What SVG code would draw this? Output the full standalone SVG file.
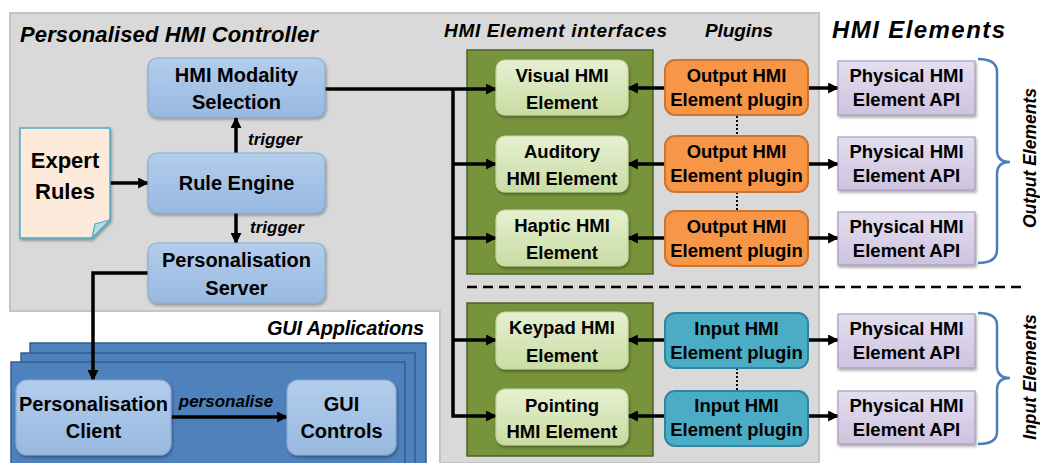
<svg xmlns="http://www.w3.org/2000/svg" width="1040" height="463" viewBox="0 0 1040 463">
<defs>
<style>
.t{font-family:"Liberation Sans",Arial,sans-serif;font-weight:bold;fill:#000;text-anchor:middle}
.l{font-size:20px}
.r{font-size:18.5px}
.h{font-family:"Liberation Sans",Arial,sans-serif;font-weight:bold;font-style:italic;fill:#000}
.c{fill:none;stroke:#000;stroke-width:3.5}
.blue{fill:url(#gBlue);stroke:#8aaad6;stroke-width:1.2}
.green{fill:url(#gGreen);stroke:#c3d69b;stroke-width:1.2}
.orange{fill:#f79646;stroke:#d0742c;stroke-width:2}
.teal{fill:#4bacc6;stroke:#31859c;stroke-width:2}
.phys{fill:url(#gPhys);stroke:#a89cbc;stroke-width:1.2}
.stack{fill:#4f81bd;stroke:#385d8a;stroke-width:1.5}
.dot{fill:none;stroke:#000;stroke-width:2;stroke-dasharray:2 2}
.br{fill:none;stroke:#4a7ebb;stroke-width:2.5}
</style>
<linearGradient id="gBlue" x1="0" y1="0" x2="0" y2="1"><stop offset="0" stop-color="#b3cdec"/><stop offset="1" stop-color="#98b9e0"/></linearGradient>
<linearGradient id="gGreen" x1="0" y1="0" x2="0" y2="1"><stop offset="0" stop-color="#e6f0d2"/><stop offset="1" stop-color="#c9dca3"/></linearGradient>
<linearGradient id="gPhys" x1="0" y1="0" x2="0" y2="1"><stop offset="0" stop-color="#e4def0"/><stop offset="1" stop-color="#cdc3de"/></linearGradient>
<filter id="sh" x="-10%" y="-10%" width="125%" height="135%"><feDropShadow dx="1" dy="2" stdDeviation="1.5" flood-color="#000" flood-opacity="0.35"/></filter>
<marker id="ah" viewBox="0 0 10 10" refX="9" refY="5" markerWidth="11" markerHeight="11" markerUnits="userSpaceOnUse" orient="auto"><path d="M0,0 L10,5 L0,10 Z" fill="#000"/></marker>
</defs>
<rect width="1040" height="463" fill="#fff"/>
<g id="panels">
<path d="M10,13 H819 V463 H440 V311 H10 Z" fill="#d9d9d9" stroke="#c4c4c4" stroke-width="2"/>
<rect x="467" y="50" width="186" height="224" fill="#77933c" stroke="#4f6228" stroke-width="1.5"/>
<rect x="467" y="303" width="186" height="153" fill="#77933c" stroke="#4f6228" stroke-width="1.5"/>
<rect class="stack" x="30" y="343" width="396" height="130"/>
<rect class="stack" x="21" y="353" width="394" height="130"/>
<rect class="stack" x="11" y="362" width="394" height="130"/>
</g>
<g id="titles">
<text class="h" x="20" y="42" font-size="22" textLength="298">Personalised HMI Controller</text>
<text class="h" x="444" y="37" font-size="19" textLength="223">HMI Element interfaces</text>
<text class="h" x="705" y="37" font-size="19" textLength="68">Plugins</text>
<text class="h" x="832" y="38" font-size="24" textLength="173">HMI Elements</text>
<text class="h" x="267" y="335" font-size="20" textLength="157">GUI Applications</text>
<text class="h" font-size="17.5" text-anchor="middle" transform="translate(1036,158) rotate(-90)">Output Elements</text>
<text class="h" font-size="17.5" text-anchor="middle" transform="translate(1036,377) rotate(-90)">Input Elements</text>
</g>
<g id="connectors">
<line class="c" x1="110" y1="183" x2="148" y2="183" marker-end="url(#ah)"/>
<line class="c" x1="236" y1="153" x2="236" y2="118" marker-end="url(#ah)"/>
<line class="c" x1="236" y1="213" x2="236" y2="243" marker-end="url(#ah)"/>
<polyline class="c" points="148,273 93,273 93,380" marker-end="url(#ah)"/>
<line class="c" x1="171" y1="417" x2="287" y2="417" marker-end="url(#ah)"/>
<line class="c" x1="325" y1="89" x2="496" y2="89" marker-end="url(#ah)"/>
<polyline class="c" points="453,89 453,416 496,416" marker-end="url(#ah)"/>
<line class="c" x1="453" y1="164" x2="496" y2="164" marker-end="url(#ah)"/>
<line class="c" x1="453" y1="238" x2="496" y2="238" marker-end="url(#ah)"/>
<line class="c" x1="453" y1="340" x2="496" y2="340" marker-end="url(#ah)"/>
<line class="c" x1="665" y1="88" x2="628" y2="88" marker-end="url(#ah)"/>
<line class="c" x1="665" y1="164" x2="628" y2="164" marker-end="url(#ah)"/>
<line class="c" x1="665" y1="238" x2="628" y2="238" marker-end="url(#ah)"/>
<line class="c" x1="665" y1="340" x2="628" y2="340" marker-end="url(#ah)"/>
<line class="c" x1="665" y1="416" x2="628" y2="416" marker-end="url(#ah)"/>
<line class="c" x1="808" y1="88" x2="838" y2="88" marker-end="url(#ah)"/>
<line class="c" x1="808" y1="164" x2="838" y2="164" marker-end="url(#ah)"/>
<line class="c" x1="808" y1="238" x2="838" y2="238" marker-end="url(#ah)"/>
<line class="c" x1="808" y1="340" x2="838" y2="340" marker-end="url(#ah)"/>
<line class="c" x1="808" y1="416" x2="838" y2="416" marker-end="url(#ah)"/>
<line class="dot" x1="737" y1="116" x2="737" y2="136"/>
<line class="dot" x1="737" y1="192" x2="737" y2="211"/>
<line class="dot" x1="737" y1="368" x2="737" y2="391"/>
<line x1="467" y1="287" x2="1023" y2="287" stroke="#000" stroke-width="2.5" stroke-dasharray="10 6"/>
<path class="br" d="M978,59 Q997,59 997,72 V150 Q997,162 1010,162 Q997,162 997,174 V250 Q997,263 978,263"/>
<path class="br" d="M978,313 Q997,313 997,325 V366 Q997,378 1010,378 Q997,378 997,390 V432 Q997,444 978,444"/>
<text class="h" x="248" y="145" font-size="17">trigger</text>
<text class="h" x="250" y="233" font-size="17">trigger</text>
<text class="h" x="226" y="407" font-size="17" text-anchor="middle">personalise</text>
</g>
<g id="expert-rules">
<path d="M20,128 H110 V220 L92,238 H20 Z" fill="#fdeada" stroke="#4bacc6" stroke-width="1.5" filter="url(#sh)"/>
<path d="M110,220 L95,224 L92,238 Z" fill="#b7dde8" stroke="#4bacc6" stroke-width="1.2"/>
<text class="t" x="65" y="168" font-size="22">Expert</text>
<text class="t" x="65" y="199" font-size="22">Rules</text>
</g>
<g id="hmi-modality-selection">
<rect class="blue" x="148" y="58" width="177" height="59" rx="9" filter="url(#sh)"/>
<text class="t l" x="236.5" y="82">HMI Modality</text>
<text class="t l" x="236.5" y="109">Selection</text>
</g>
<g id="rule-engine">
<rect class="blue" x="148" y="153" width="177" height="60" rx="9" filter="url(#sh)"/>
<text class="t l" x="236.5" y="190">Rule Engine</text>
</g>
<g id="personalisation-server">
<rect class="blue" x="148" y="243" width="177" height="60" rx="9" filter="url(#sh)"/>
<text class="t l" x="236.5" y="267">Personalisation</text>
<text class="t l" x="236.5" y="295">Server</text>
</g>
<g id="personalisation-client">
<rect class="blue" x="16" y="380" width="155" height="75" rx="11" filter="url(#sh)"/>
<text class="t l" x="93.5" y="411">Personalisation</text>
<text class="t l" x="93.5" y="438">Client</text>
</g>
<g id="gui-controls">
<rect class="blue" x="287" y="380" width="109" height="75" rx="11" filter="url(#sh)"/>
<text class="t l" x="341.5" y="411">GUI</text>
<text class="t l" x="341.5" y="438">Controls</text>
</g>
<g id="visual-hmi-element">
<rect class="green" x="496" y="60" width="132" height="55" rx="9" filter="url(#sh)"/>
<text class="t r" x="562" y="82">Visual HMI</text>
<text class="t r" x="562" y="109">Element</text>
</g>
<g id="auditory-hmi-element">
<rect class="green" x="496" y="136" width="132" height="56" rx="9" filter="url(#sh)"/>
<text class="t r" x="562" y="158">Auditory</text>
<text class="t r" x="562" y="185">HMI Element</text>
</g>
<g id="haptic-hmi-element">
<rect class="green" x="496" y="210" width="132" height="56" rx="9" filter="url(#sh)"/>
<text class="t r" x="562" y="232">Haptic HMI</text>
<text class="t r" x="562" y="259">Element</text>
</g>
<g id="keypad-hmi-element">
<rect class="green" x="496" y="312" width="132" height="57" rx="9" filter="url(#sh)"/>
<text class="t r" x="562" y="334">Keypad HMI</text>
<text class="t r" x="562" y="362">Element</text>
</g>
<g id="pointing-hmi-element">
<rect class="green" x="496" y="389" width="132" height="56" rx="9" filter="url(#sh)"/>
<text class="t r" x="562" y="412">Pointing</text>
<text class="t r" x="562" y="438">HMI Element</text>
</g>
<g id="output-plugin-1">
<rect class="orange" x="665" y="60" width="143" height="55" rx="10"/>
<text class="t r" x="736.5" y="82">Output HMI</text>
<text class="t r" x="736.5" y="106">Element plugin</text>
</g>
<g id="output-plugin-2">
<rect class="orange" x="665" y="136" width="143" height="56" rx="10"/>
<text class="t r" x="736.5" y="158">Output HMI</text>
<text class="t r" x="736.5" y="182">Element plugin</text>
</g>
<g id="output-plugin-3">
<rect class="orange" x="665" y="211" width="143" height="55" rx="10"/>
<text class="t r" x="736.5" y="233">Output HMI</text>
<text class="t r" x="736.5" y="257">Element plugin</text>
</g>
<g id="input-plugin-1">
<rect class="teal" x="665" y="313" width="143" height="55" rx="10"/>
<text class="t r" x="736.5" y="335">Input HMI</text>
<text class="t r" x="736.5" y="359">Element plugin</text>
</g>
<g id="input-plugin-2">
<rect class="teal" x="665" y="391" width="143" height="55" rx="10"/>
<text class="t r" x="736.5" y="412">Input HMI</text>
<text class="t r" x="736.5" y="436">Element plugin</text>
</g>
<g id="physical-api-1">
<rect class="phys" x="838" y="61" width="137" height="54" filter="url(#sh)"/>
<text class="t r" x="906.5" y="82">Physical HMI</text>
<text class="t r" x="906.5" y="106">Element API</text>
</g>
<g id="physical-api-2">
<rect class="phys" x="838" y="137" width="137" height="53" filter="url(#sh)"/>
<text class="t r" x="906.5" y="158">Physical HMI</text>
<text class="t r" x="906.5" y="182">Element API</text>
</g>
<g id="physical-api-3">
<rect class="phys" x="838" y="212" width="137" height="53" filter="url(#sh)"/>
<text class="t r" x="906.5" y="233">Physical HMI</text>
<text class="t r" x="906.5" y="257">Element API</text>
</g>
<g id="physical-api-4">
<rect class="phys" x="838" y="314" width="137" height="54" filter="url(#sh)"/>
<text class="t r" x="906.5" y="335">Physical HMI</text>
<text class="t r" x="906.5" y="359">Element API</text>
</g>
<g id="physical-api-5">
<rect class="phys" x="838" y="391" width="137" height="53" filter="url(#sh)"/>
<text class="t r" x="906.5" y="412">Physical HMI</text>
<text class="t r" x="906.5" y="436">Element API</text>
</g>
</svg>
